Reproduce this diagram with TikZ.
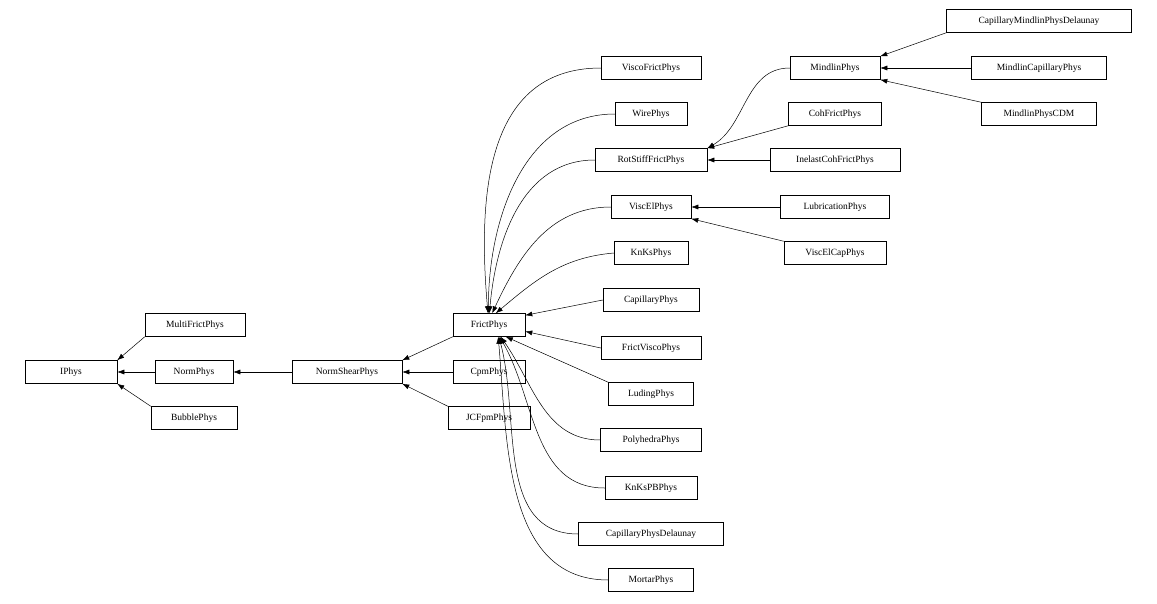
\documentclass[tikz,border=0pt]{standalone}
\usepackage{fontspec}
\setmainfont{Liberation Serif}
\usetikzlibrary{arrows.meta}
\begin{document}
\begin{tikzpicture}[x=1pt,y=-1pt,
  b/.style={draw,line width=0.5pt,minimum height=23pt,inner sep=0pt,font=\fontsize{9.5}{10}\selectfont},
  e/.style={-{Latex[length=7pt,width=5pt]},line width=0.5pt}]
\useasboundingbox (0,0) rectangle (1157,603);
\node[b,minimum width=92] (iphys) at (71,372) {IPhys};
\node[b,minimum width=100] (mfp) at (195,325) {MultiFrictPhys};
\node[b,minimum width=78] (np) at (194,372) {NormPhys};
\node[b,minimum width=86] (bp) at (194,418) {BubblePhys};
\node[b,minimum width=110] (nsp) at (347,372) {NormShearPhys};
\node[b,minimum width=72] (cpm) at (489,372) {CpmPhys};
\node[b,minimum width=82] (jcf) at (489,418) {JCFpmPhys};
\node[b,minimum width=72] (fp) at (489,325) {FrictPhys};
\node[b,minimum width=100] (vfp) at (651,68) {ViscoFrictPhys};
\node[b,minimum width=72] (wp) at (651,114) {WirePhys};
\node[b,minimum width=112] (rsf) at (651,160) {RotStiffFrictPhys};
\node[b,minimum width=80] (vep) at (651,207) {ViscElPhys};
\node[b,minimum width=74] (kks) at (651,253) {KnKsPhys};
\node[b,minimum width=96] (cap) at (651,300) {CapillaryPhys};
\node[b,minimum width=100] (fvp) at (651,348) {FrictViscoPhys};
\node[b,minimum width=85] (lud) at (651,394) {LudingPhys};
\node[b,minimum width=101] (poly) at (651,440) {PolyhedraPhys};
\node[b,minimum width=92] (kpb) at (651,488) {KnKsPBPhys};
\node[b,minimum width=145] (cpd) at (651,534) {CapillaryPhysDelaunay};
\node[b,minimum width=85] (mor) at (651,580) {MortarPhys};
\node[b,minimum width=90] (mp) at (835,68) {MindlinPhys};
\node[b,minimum width=93] (cfp) at (835,114) {CohFrictPhys};
\node[b,minimum width=130] (icf) at (835,160) {InelastCohFrictPhys};
\node[b,minimum width=109] (lub) at (835,207) {LubricationPhys};
\node[b,minimum width=102] (vec) at (835,253) {ViscElCapPhys};
\node[b,minimum width=185] (cmd) at (1039,21) {CapillaryMindlinPhysDelaunay};
\node[b,minimum width=135] (mcp) at (1039,68) {MindlinCapillaryPhys};
\node[b,minimum width=115] (cdm) at (1039,114) {MindlinPhysCDM};

\draw[e] (mfp.south west) -- (iphys.north east);
\draw[e] (np) -- (iphys);
\draw[e] (bp.north west) -- (iphys.south east);
\draw[e] (nsp) -- (np);
\draw[e] (fp.south west) -- (nsp.north east);
\draw[e] (cpm) -- (nsp);
\draw[e] (jcf.north west) -- (nsp.south east);
\draw[e] (vfp.west) to[out=180,in=95,looseness=1.1] (fp.95);
\draw[e] (wp.west) to[out=180,in=90] (fp.93);
\draw[e] (rsf.west) to[out=180,in=85] (fp.88);
\draw[e] (vep.west) to[out=180,in=65] (fp.75);
\draw[e] (kks.west) to[out=185,in=40] (fp.60);
\draw[e] (cap.west) -- (fp.15);
\draw[e] (fvp.west) -- (fp.-10);
\draw[e] (lud.north west) -- (fp.-35);
\draw[e] (poly.west) to[out=180,in=-55] (fp.-45);
\draw[e] (kpb.west) to[out=180,in=-60] (fp.-48);
\draw[e] (cpd.west) to[out=180,in=-75] (fp.-50);
\draw[e] (mor.west) to[out=180,in=-85] (fp.-52);
\draw[e] (mp.west) to[out=180,in=30] (rsf.north east);
\draw[e] (cfp.south west) -- (rsf.north east);
\draw[e] (icf) -- (rsf);
\draw[e] (lub) -- (vep);
\draw[e] (vec.north west) -- (vep.south east);
\draw[e] (cmd.south west) -- (mp.north east);
\draw[e] (mcp) -- (mp);
\draw[e] (cdm.north west) -- (mp.south east);
\end{tikzpicture}
\end{document}
